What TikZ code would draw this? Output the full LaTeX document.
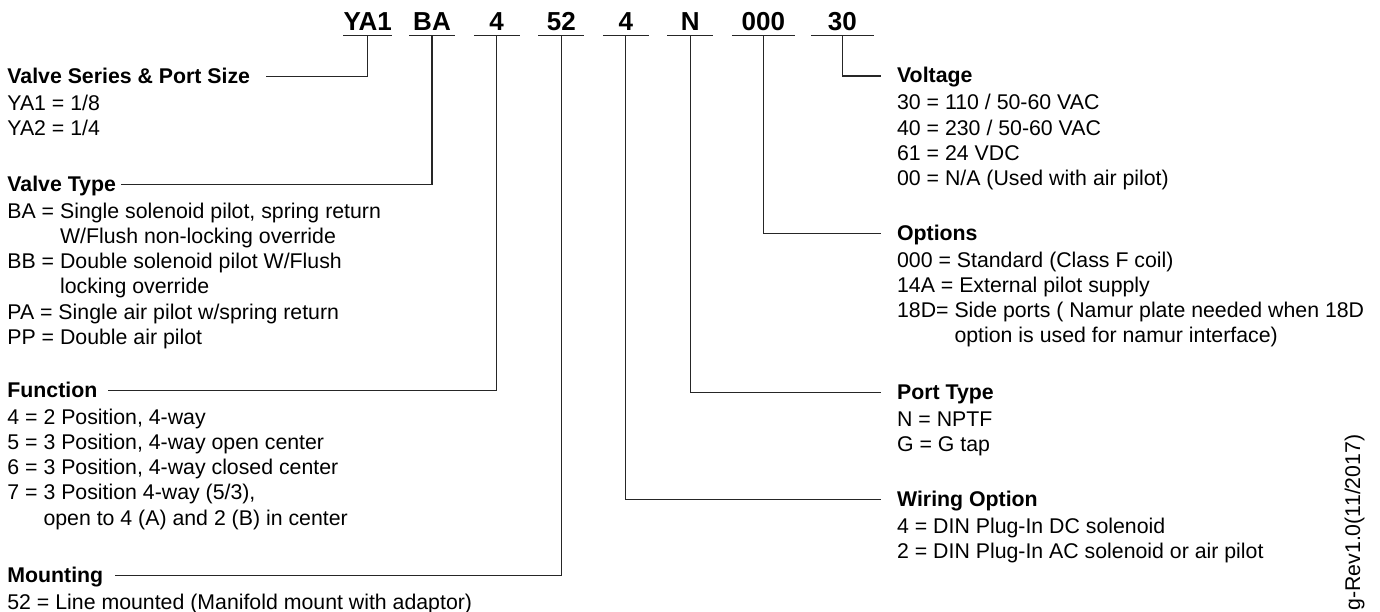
\documentclass[tikz,border=0pt]{standalone}
\usepackage{fontspec}
\setmainfont{Liberation Sans}
\usetikzlibrary{positioning}

\newcommand{\bodysize}{\fontsize{10.65}{12.6}\selectfont}

\tikzset{
    code/.style={font=\fontsize{13}{15}\selectfont\bfseries, inner xsep=0pt, inner ysep=2.5pt,
        text depth=0pt, minimum width=22.5pt, anchor=base},
    wide/.style={minimum width=31pt},
    title/.style={font=\bodysize\bfseries, inner sep=0pt, text height=6.8pt, text depth=0pt, anchor=base west},
    items/.style={font=\bodysize, inner sep=0pt, align=left, anchor=north west},
    lead/.style={line width=0.6pt, draw=black!85},
}

\begin{document}
\begin{tikzpicture}[x=0.5pt, y=-0.5pt]
    \useasboundingbox (0,0) rectangle (1380,611);

    % Part number
    \node [code] (ya1) at (367.8,30) {YA1};
    \node [code] (ba) at (432,30) {BA};
    \node [code] (f4) at (496.7,30) {4};
    \node [code] (m52) at (561.3,30) {52};
    \node [code] (w4) at (625.8,30) {4};
    \node [code] (pn) at (690.2,30) {N};
    \node [code, wide] (o000) at (763.3,30) {000};
    \node [code, wide] (v30) at (842.3,30) {30};
    \foreach \c in {ya1,ba,f4,m52,w4,pn,o000,v30} {
        \draw [lead] (\c.south west) -- (\c.south east);
    }

    % Left column
    \node [title] (series) at (7,83.3) {Valve Series \& Port Size};
    \node [below=4.4pt of series.south west, items] (serieslist)
        {\strut YA1 = 1/8\\YA2 = 1/4};

    \node [title] (vtype) at (7,191) {Valve Type};
    \node [below=4.4pt of vtype.south west, items] (vtypelist)
        {\strut BA = Single solenoid pilot, spring return\\
         \phantom{BA = }W/Flush non-locking override\\
         BB = Double solenoid pilot W/Flush\\
         \phantom{BB = }locking override\\
         PA = Single air pilot w/spring return\\
         PP = Double air pilot};

    \node [title] (func) at (7,397) {Function};
    \node [below=4.4pt of func.south west, items] (funclist)
        {\strut 4 = 2 Position, 4-way\\
         5 = 3 Position, 4-way open center\\
         6 = 3 Position, 4-way closed center\\
         7 = 3 Position 4-way (5/3),\\
         \phantom{7 = }open to 4 (A) and 2 (B) in center};

    \node [title] (mount) at (7,582) {Mounting};
    \node [below=4.4pt of mount.south west, items] (mountlist)
        {\strut 52 = Line mounted (Manifold mount with adaptor)};

    % Right column
    \node [title] (volt) at (896.7,82.7) {Voltage};
    \node [below=4.4pt of volt.south west, items] (voltlist)
        {\strut 30 = 110 / 50-60 VAC\\
         40 = 230 / 50-60 VAC\\
         61 = 24 VDC\\
         00 = N/A (Used with air pilot)};

    \node [title] (opts) at (896.7,240) {Options};
    \node [below=4.4pt of opts.south west, items] (optslist)
        {\strut 000 = Standard (Class F coil)\\
         14A = External pilot supply\\
         18D= Side ports ( Namur plate needed when 18D\\
         \phantom{18D= }option is used for namur interface)};

    \node [title] (port) at (896.7,399.3) {Port Type};
    \node [below=4.4pt of port.south west, items] (portlist)
        {\strut N = NPTF\\G = G tap};

    \node [title] (wiring) at (896.7,506) {Wiring Option};
    \node [below=4.4pt of wiring.south west, items] (wiringlist)
        {\strut 4 = DIN Plug-In DC solenoid\\
         2 = DIN Plug-In AC solenoid or air pilot};

    % Leaders
    \draw [lead, shorten >=7.5pt] (ya1.south) |- (series.east);
    \draw [lead, shorten >=2.5pt] (ba.south) |- (vtype.east);
    \draw [lead, shorten >=5pt] (f4.south) |- (func.east);
    \draw [lead, shorten >=5.5pt] (m52.south) |- (mount.east);
    \draw [lead, shorten >=7.8pt] (w4.south) |- (wiring.west);
    \draw [lead, shorten >=7.8pt] (pn.south) |- (port.west);
    \draw [lead, shorten >=7.8pt] (o000.south) |- (opts.west);
    \draw [lead, shorten >=7.8pt] (v30.south) |- (volt.west);

    % Revision tag
    \node [font=\bodysize, inner sep=0pt, rotate=90, anchor=base west] (rev) at (1360,611) {g-Rev1.0(11/2017)};
\end{tikzpicture}
\end{document}
